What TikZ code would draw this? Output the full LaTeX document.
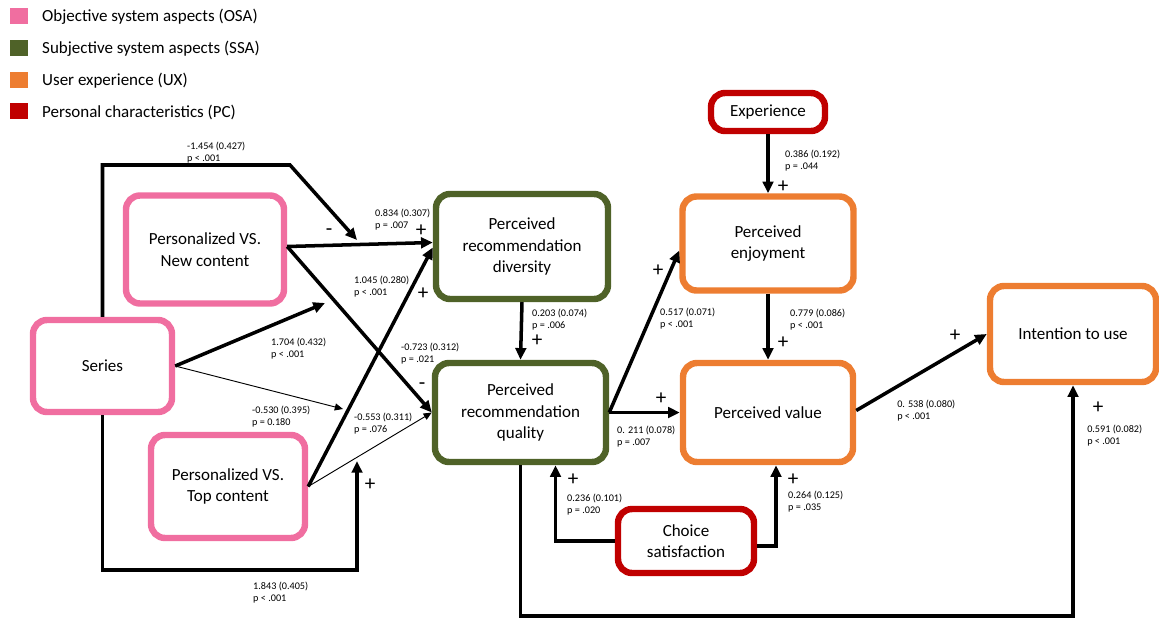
\documentclass[tikz,border=0pt]{standalone}
\usepackage{fontspec}
\setmainfont{Carlito}
\usetikzlibrary{arrows.meta,calc}
\definecolor{osapink}{RGB}{240,110,160}
\definecolor{ssagreen}{RGB}{79,98,40}
\definecolor{uxorange}{RGB}{237,125,49}
\definecolor{pcred}{RGB}{192,0,0}
\begin{document}
\begin{tikzpicture}[x=0.03cm, y=-0.03cm,
        box/.style={draw,rectangle,rounded corners=12pt,line width=5.5pt,fill=white,align=center,inner sep=2pt,font=\fontsize{14.5}{18.5}\selectfont},
        osanode/.style={box,draw=osapink},
        ssanode/.style={box,draw=ssagreen},
        uxnode/.style={box,draw=uxorange},
        pcnode/.style={box,draw=pcred},
        legendbox/.style={rectangle,minimum width=0.54cm,minimum height=0.5cm,inner sep=0pt},
        legendtext/.style={anchor=west,inner sep=0pt,font=\fontsize{14.5}{17}\selectfont},
        coef/.style={anchor=north west,align=left,inner sep=0pt,font=\fontsize{8.7}{10.2}\selectfont},
        sign/.style={inner sep=0pt,text height=8pt,text depth=0pt,font=\fontsize{18}{18}\selectfont},
        arr/.style={line width=3pt,-{Triangle[length=10pt,width=9pt]}},
        thinarr/.style={line width=0.8pt,-{Triangle[length=7pt,width=6pt]}}
        ]
        %box/.style={draw,rectangle,rounded corners,inner sep=2pt,align=center}
      \useasboundingbox (0,0) rectangle (1159,617);
      % legend
      \node[legendbox,fill=osapink] (lgosa) at (19,16) {};
      \node[legendbox,fill=ssagreen] (lgssa) at (19,48) {};
      \node[legendbox,fill=uxorange] (lgux) at (19,80) {};
      \node[legendbox,fill=pcred] (lgpc) at (19,111) {};
      \node[legendtext] (txosa) at (42,17) {Objective system aspects (OSA)};
      \node[legendtext] (txssa) at (42,49) {Subjective system aspects (SSA)};
      \node[legendtext] (txux) at (42,81) {User experience (UX)};
      \node[legendtext] (txpc) at (42,112) {Personal characteristics (PC)};
      % constructs
      \node[osanode,minimum width=4.74cm,minimum height=3.24cm] (newc) at (205,249.5) {Personalized VS.\\New content};
      \node[osanode,minimum width=4.17cm,minimum height=2.76cm] (series) at (102.5,366) {Series};
      \node[osanode,minimum width=4.62cm,minimum height=3.09cm] (topc) at (228,486.5) {Personalized VS.\\Top content};
      \node[ssanode,minimum width=5.16cm,minimum height=3.15cm] (div) at (522,246.5) {Perceived\\recommendation\\diversity};
      \node[ssanode,minimum width=5.13cm,minimum height=2.97cm] (qual) at (520.5,412.5) {Perceived\\recommendation\\quality};
      \node[pcnode,minimum width=3.42cm,minimum height=1.14cm] (exper) at (768,112) {Experience};
      \node[uxnode,minimum width=5.13cm,minimum height=2.82cm] (enjoy) at (768,243.5) {Perceived\\enjoyment};
      \node[uxnode,minimum width=5.1cm,minimum height=2.97cm] (value) at (768,412.5) {Perceived value};
      \node[uxnode,minimum width=4.98cm,minimum height=2.88cm] (intent) at (1073,334) {Intention to use};
      \node[pcnode,minimum width=4.08cm,minimum height=1.92cm] (choice) at (686,541) {Choice\\satisfaction};
      % free ends
      \coordinate (topbend) at (290,165);
      \coordinate (minustip) at (357,240);
      \coordinate (botbend) at (357,570);
      \coordinate (plustip) at (357,461);
      \coordinate (midtip) at (325,303);
      \coordinate (thintip) at (343,409);
      % paths
      \draw[arr,line join=miter] (series.north) |- (topbend) -- (minustip);
      \draw[arr,line join=miter] (series.south) |- (botbend) -- (plustip);
      \draw[arr] (series.east) -- (midtip);
      \draw[thinarr] (series.east) -- (thintip);
      \draw[arr] ($(newc.east)+(0,-3)$) -- ($(div.west)+(0,-4)$);
      \draw[arr] ($(newc.east)+(0,-3)$) -- (qual.west);
      \draw[arr] (topc.east) -- ($(div.west)+(0,1)$);
      \draw[thinarr] (topc.east) -- (qual.west);
      \draw[arr] (div.south) -- (qual.north);
      \draw[arr] (qual.east) -- ($(enjoy.west)+(0,7)$);
      \draw[arr] (qual.east) -- (value.west);
      \draw[arr] (exper.south) -- (enjoy.north);
      \draw[arr] (enjoy.south) -- (value.north);
      \draw[arr] ($(value.east)+(0,-2)$) -- (intent.west);
      \draw[arr,line join=miter] (qual.south) -- ++(0,151) -| (intent.south);
      \draw[arr,line join=miter] (choice.west) -| ($(qual.south)+(35,0)$);
      \draw[arr,line join=miter] ($(choice.east)+(0,5)$) -| ($(value.south)+(8,0)$);
      % coefficients
      \node[coef] (c1) at (187,142) {-1.454 (0.427)\\p < .001};
      \node[coef] (c2) at (375,209) {0.834 (0.307)\\p = .007};
      \node[coef] (c3) at (354,276) {1.045 (0.280)\\p < .001};
      \node[coef] (c4) at (271,338) {1.704 (0.432)\\p < .001};
      \node[coef] (c5) at (401,343) {-0.723 (0.312)\\p = .021};
      \node[coef] (c6) at (252,406) {-0.530 (0.395)\\p = 0.180};
      \node[coef] (c7) at (354,413) {-0.553 (0.311)\\p = .076};
      \node[coef] (c8) at (253,582) {1.843 (0.405)\\p < .001};
      \node[coef] (c9) at (532,309) {0.203 (0.074)\\p = .006};
      \node[coef] (c10) at (660,308) {0.517 (0.071)\\p < .001};
      \node[coef] (c11) at (617,426) {0. 211 (0.078)\\p = .007};
      \node[coef] (c12) at (785,150) {0.386 (0.192)\\p = .044};
      \node[coef] (c13) at (790,309) {0.779 (0.086)\\p < .001};
      \node[coef] (c14) at (897,400) {0. 538 (0.080)\\p < .001};
      \node[coef] (c15) at (1087,425) {0.591 (0.082)\\p < .001};
      \node[coef] (c16) at (567,494) {0.236 (0.101)\\p = .020};
      \node[coef] (c17) at (788,491) {0.264 (0.125)\\p = .035};
      % signs
      \node[sign] (s1) at (329,231) {-};
      \node[sign] (s2) at (421,232) {+};
      \node[sign] (s3) at (423,295) {+};
      \node[sign] (s5) at (422,385) {-};
      \node[sign] (s8) at (370,486) {+};
      \node[sign] (s9) at (537,342) {+};
      \node[sign] (s10) at (658,272) {+};
      \node[sign] (s11) at (661,400) {+};
      \node[sign] (s12) at (783,188) {+};
      \node[sign] (s13) at (783,344) {+};
      \node[sign] (s14) at (955,337) {+};
      \node[sign] (s15) at (1098,409) {+};
      \node[sign] (s16) at (573,481) {+};
      \node[sign] (s17) at (793,481) {+};
      \end{tikzpicture}
\end{document}
